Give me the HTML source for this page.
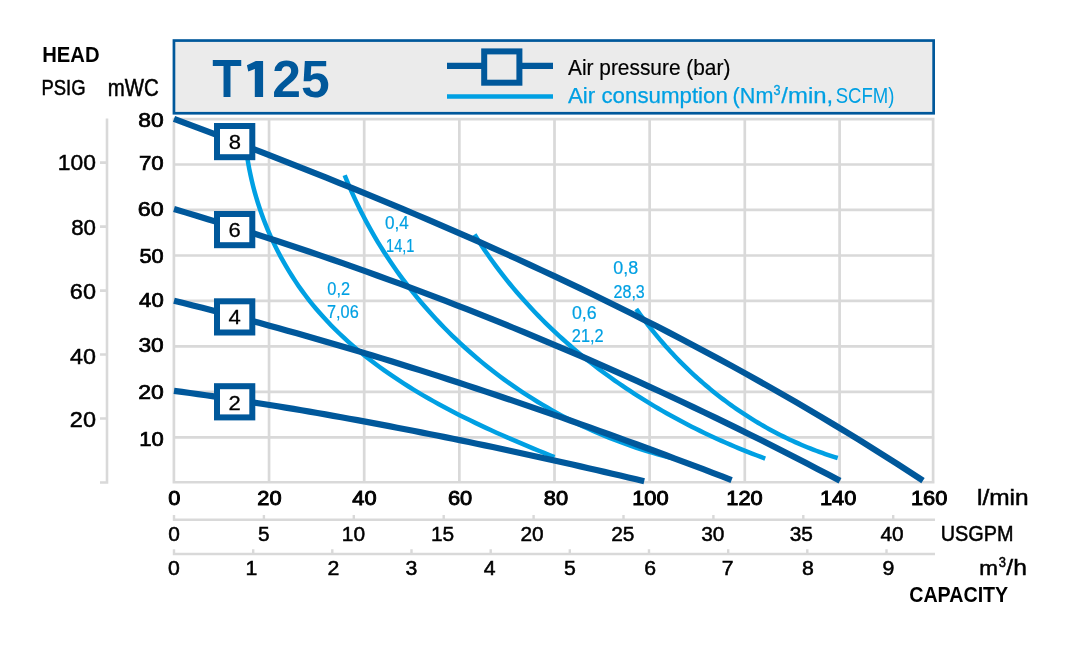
<!DOCTYPE html><html><head><meta charset="utf-8"><style>html,body{margin:0;padding:0;background:#fff;overflow:hidden}svg{display:block;will-change:transform}text{font-family:"Liberation Sans",sans-serif}</style></head><body>
<svg width="1081" height="654" viewBox="0 0 1081 654">
<rect width="1081" height="654" fill="#fff"/>
<rect x="173.95" y="40.55" width="759.7" height="72.7" fill="#ebebeb" stroke="#00589b" stroke-width="2.7"/>
<path d="M173.90,118.2 L173.90,483.6 M269.05,118.2 L269.05,483.6 M364.20,118.2 L364.20,483.6 M459.35,118.2 L459.35,483.6 M554.50,118.2 L554.50,483.6 M649.65,118.2 L649.65,483.6 M744.80,118.2 L744.80,483.6 M839.60,118.2 L839.60,483.6 M933.10,118.2 L933.10,483.6 M172.6,482.25 L934.5,482.25 M172.6,437.40 L934.5,437.40 M172.6,391.90 L934.5,391.90 M172.6,346.40 L934.5,346.40 M172.6,300.90 L934.5,300.90 M172.6,255.50 L934.5,255.50 M172.6,209.90 L934.5,209.90 M172.6,164.50 L934.5,164.50 M172.6,119.10 L934.5,119.10" stroke="#d9d9d9" stroke-width="2.7" fill="none"/>
<path d="M107,118.5 L107,483.7 M100,482.5 L107,482.5 M100,418.5 L107,418.5 M100,354.5 L107,354.5 M100,290.6 L107,290.6 M100,226.6 L107,226.6 M100,162.6 L107,162.6" stroke="#d9d9d9" stroke-width="2.6" fill="none"/>
<path d="M172.8,519.7 L935,519.7 M174.0,515 L174.0,519.7 M263.9,515 L263.9,519.7 M353.8,515 L353.8,519.7 M443.7,515 L443.7,519.7 M533.6,515 L533.6,519.7 M623.5,515 L623.5,519.7 M713.4,515 L713.4,519.7 M803.3,515 L803.3,519.7 M893.2,515 L893.2,519.7" stroke="#d9d9d9" stroke-width="2.4" fill="none"/>
<path d="M172.8,554.0 L935,554.0 M174.0,549.2 L174.0,554 M253.2,549.2 L253.2,554 M332.3,549.2 L332.3,554 M411.5,549.2 L411.5,554 M490.7,549.2 L490.7,554 M569.8,549.2 L569.8,554 M649.0,549.2 L649.0,554 M728.2,549.2 L728.2,554 M807.3,549.2 L807.3,554 M886.5,549.2 L886.5,554" stroke="#d9d9d9" stroke-width="2.4" fill="none"/>
<path d="M246.45,151.72 L247.29,157.53 L248.24,163.32 L249.30,169.08 L250.47,174.81 L251.75,180.51 L253.13,186.19 L254.62,191.83 L256.22,197.44 L257.93,203.01 L259.73,208.55 L261.64,214.04 L263.65,219.50 L265.76,224.91 L267.97,230.28 L270.28,235.60 L272.69,240.88 L275.19,246.10 L277.79,251.28 L280.48,256.40 L283.27,261.46 L286.15,266.47 L289.12,271.42 L292.18,276.31 L295.32,281.14 L298.56,285.91 L301.89,290.61 L305.30,295.24 L308.79,299.80 L312.37,304.29 L316.04,308.71 L319.78,313.06 L323.61,317.34 L327.51,321.55 L331.48,325.69 L335.53,329.76 L339.65,333.76 L343.84,337.70 L348.10,341.58 L352.41,345.39 L356.80,349.14 L361.24,352.82 L365.74,356.45 L370.30,360.01 L374.91,363.52 L379.58,366.97 L384.29,370.36 L389.05,373.70 L393.86,376.98 L398.71,380.21 L403.61,383.39 L408.54,386.51 L413.52,389.58 L418.52,392.61 L423.56,395.58 L428.64,398.51 L433.74,401.39 L438.87,404.22 L444.03,407.02 L449.20,409.76 L454.40,412.47 L459.62,415.13 L464.86,417.75 L470.11,420.33 L475.37,422.87 L480.65,425.38 L485.93,427.85 L491.22,430.28 L496.52,432.68 L501.82,435.04 L507.12,437.37 L512.41,439.67 L517.71,441.94 L522.99,444.18 L528.27,446.39 L533.54,448.58 L538.80,450.73 L544.05,452.87 L549.28,454.97 L554.49,457.05" stroke="#00a0e3" stroke-width="4.5" fill="none" stroke-linecap="butt"/>
<path d="M344.68,175.22 L346.84,180.57 L349.08,185.89 L351.37,191.17 L353.74,196.42 L356.16,201.63 L358.66,206.81 L361.21,211.95 L363.83,217.06 L366.51,222.13 L369.25,227.16 L372.05,232.16 L374.92,237.11 L377.84,242.03 L380.82,246.91 L383.86,251.75 L386.96,256.55 L390.12,261.31 L393.34,266.02 L396.61,270.70 L399.93,275.33 L403.32,279.92 L406.76,284.47 L410.25,288.98 L413.79,293.44 L417.39,297.86 L421.05,302.23 L424.75,306.56 L428.51,310.84 L432.31,315.07 L436.17,319.26 L440.08,323.40 L444.04,327.50 L448.04,331.54 L452.10,335.54 L456.20,339.49 L460.34,343.39 L464.54,347.24 L468.78,351.04 L473.07,354.78 L477.40,358.48 L481.77,362.13 L486.19,365.72 L490.65,369.26 L495.15,372.75 L499.70,376.19 L504.28,379.57 L508.91,382.90 L513.57,386.17 L518.28,389.39 L523.02,392.56 L527.80,395.67 L532.61,398.72 L537.47,401.72 L542.36,404.66 L547.28,407.55 L552.24,410.38 L557.23,413.15 L562.26,415.86 L567.32,418.51 L572.41,421.10 L577.54,423.64 L582.69,426.11 L587.88,428.53 L593.09,430.88 L598.33,433.18 L603.60,435.41 L608.90,437.58 L614.23,439.69 L619.58,441.74 L624.96,443.72 L630.37,445.64 L635.80,447.50 L641.25,449.29 L646.73,451.02 L652.23,452.68 L657.75,454.28 L663.29,455.81 L668.86,457.28 L674.44,458.68" stroke="#00a0e3" stroke-width="4.5" fill="none" stroke-linecap="butt"/>
<path d="M474.53,234.46 L477.04,238.48 L479.60,242.48 L482.20,246.45 L484.84,250.39 L487.52,254.29 L490.24,258.17 L492.99,262.02 L495.79,265.83 L498.62,269.62 L501.49,273.38 L504.40,277.10 L507.35,280.80 L510.33,284.47 L513.34,288.10 L516.40,291.71 L519.48,295.28 L522.61,298.83 L525.76,302.34 L528.95,305.83 L532.17,309.28 L535.43,312.70 L538.72,316.10 L542.04,319.46 L545.39,322.79 L548.77,326.10 L552.18,329.37 L555.62,332.61 L559.10,335.82 L562.60,339.00 L566.13,342.15 L569.69,345.27 L573.27,348.35 L576.89,351.41 L580.53,354.44 L584.20,357.44 L587.89,360.40 L591.61,363.34 L595.35,366.24 L599.12,369.11 L602.92,371.95 L606.74,374.77 L610.58,377.55 L614.44,380.30 L618.33,383.02 L622.24,385.70 L626.17,388.36 L630.12,390.99 L634.09,393.58 L638.09,396.14 L642.10,398.68 L646.14,401.18 L650.19,403.65 L654.26,406.09 L658.35,408.50 L662.45,410.88 L666.58,413.22 L670.72,415.54 L674.88,417.82 L679.05,420.07 L683.24,422.30 L687.44,424.49 L691.66,426.64 L695.90,428.77 L700.14,430.87 L704.40,432.93 L708.68,434.97 L712.96,436.97 L717.26,438.94 L721.57,440.88 L725.89,442.78 L730.22,444.66 L734.56,446.50 L738.92,448.32 L743.28,450.10 L747.65,451.85 L752.03,453.57 L756.41,455.25 L760.81,456.91 L765.21,458.53" stroke="#00a0e3" stroke-width="4.5" fill="none" stroke-linecap="butt"/>
<path d="M636.24,308.94 L638.10,311.58 L639.99,314.21 L641.89,316.82 L643.82,319.42 L645.77,322.00 L647.73,324.56 L649.72,327.11 L651.73,329.65 L653.76,332.17 L655.80,334.67 L657.87,337.15 L659.96,339.62 L662.06,342.07 L664.19,344.51 L666.34,346.93 L668.50,349.33 L670.68,351.71 L672.88,354.08 L675.10,356.43 L677.34,358.76 L679.60,361.07 L681.88,363.36 L684.17,365.64 L686.48,367.89 L688.81,370.13 L691.16,372.35 L693.53,374.55 L695.91,376.73 L698.31,378.89 L700.73,381.03 L703.16,383.15 L705.62,385.25 L708.09,387.33 L710.57,389.39 L713.07,391.43 L715.59,393.45 L718.13,395.45 L720.68,397.42 L723.25,399.38 L725.83,401.31 L728.43,403.22 L731.05,405.11 L733.68,406.98 L736.33,408.82 L738.99,410.65 L741.66,412.45 L744.36,414.23 L747.06,415.98 L749.79,417.71 L752.52,419.42 L755.27,421.10 L758.04,422.76 L760.82,424.40 L763.62,426.01 L766.42,427.60 L769.25,429.17 L772.08,430.71 L774.93,432.22 L777.80,433.71 L780.67,435.18 L783.56,436.62 L786.47,438.03 L789.38,439.42 L792.31,440.78 L795.26,442.12 L798.21,443.43 L801.18,444.72 L804.16,445.97 L807.15,447.21 L810.15,448.41 L813.17,449.59 L816.20,450.74 L819.24,451.86 L822.29,452.96 L825.35,454.02 L828.43,455.06 L831.51,456.07 L834.61,457.06 L837.72,458.01" stroke="#00a0e3" stroke-width="4.5" fill="none" stroke-linecap="butt"/>
<path d="M174.00,118.82 L186.69,123.59 L199.39,128.38 L212.08,133.19 L224.78,138.03 L237.47,142.89 L250.17,147.77 L262.86,152.68 L275.56,157.62 L288.25,162.59 L300.95,167.59 L313.64,172.63 L326.34,177.69 L339.03,182.80 L351.73,187.94 L364.42,193.12 L377.12,198.34 L389.81,203.60 L402.51,208.90 L415.20,214.25 L427.90,219.64 L440.59,225.08 L453.29,230.57 L465.98,236.10 L478.68,241.69 L491.37,247.33 L504.07,253.03 L516.76,258.78 L529.46,264.59 L542.15,270.45 L554.85,276.38 L567.54,282.36 L580.24,288.41 L592.93,294.53 L605.63,300.71 L618.32,306.95 L631.02,313.26 L643.71,319.65 L656.41,326.10 L669.10,332.63 L681.80,339.23 L694.49,345.91 L707.19,352.66 L719.88,359.49 L732.58,366.40 L745.27,373.39 L757.97,380.46 L770.66,387.62 L783.36,394.86 L796.05,402.19 L808.75,409.61 L821.44,417.12 L834.14,424.72 L846.83,432.41 L859.53,440.19 L872.22,448.07 L884.92,456.05 L897.61,464.12 L910.31,472.29 L923.00,480.57" stroke="#00589b" stroke-width="6.2" fill="none" stroke-linecap="butt"/>
<path d="M174.00,209.05 L185.29,212.39 L196.58,215.76 L207.86,219.18 L219.15,222.64 L230.44,226.14 L241.73,229.68 L253.02,233.26 L264.31,236.88 L275.59,240.55 L286.88,244.26 L298.17,248.01 L309.46,251.80 L320.75,255.64 L332.03,259.51 L343.32,263.43 L354.61,267.40 L365.90,271.41 L377.19,275.46 L388.47,279.55 L399.76,283.69 L411.05,287.87 L422.34,292.09 L433.63,296.36 L444.92,300.68 L456.20,305.04 L467.49,309.44 L478.78,313.89 L490.07,318.38 L501.36,322.92 L512.64,327.50 L523.93,332.13 L535.22,336.80 L546.51,341.52 L557.80,346.29 L569.08,351.10 L580.37,355.96 L591.66,360.86 L602.95,365.81 L614.24,370.81 L625.53,375.85 L636.81,380.94 L648.10,386.08 L659.39,391.27 L670.68,396.50 L681.97,401.78 L693.25,407.11 L704.54,412.48 L715.83,417.91 L727.12,423.38 L738.41,428.90 L749.69,434.47 L760.98,440.09 L772.27,445.76 L783.56,451.47 L794.85,457.24 L806.14,463.05 L817.42,468.92 L828.71,474.83 L840.00,480.79" stroke="#00589b" stroke-width="6.2" fill="none" stroke-linecap="butt"/>
<path d="M174.00,300.76 L183.45,303.10 L192.90,305.47 L202.35,307.87 L211.80,310.29 L221.25,312.74 L230.71,315.22 L240.16,317.73 L249.61,320.26 L259.06,322.81 L268.51,325.40 L277.96,328.01 L287.41,330.64 L296.86,333.31 L306.31,335.99 L315.76,338.70 L325.21,341.44 L334.66,344.20 L344.12,346.99 L353.57,349.80 L363.02,352.63 L372.47,355.49 L381.92,358.38 L391.37,361.28 L400.82,364.21 L410.27,367.17 L419.72,370.14 L429.17,373.14 L438.62,376.16 L448.07,379.21 L457.53,382.28 L466.98,385.36 L476.43,388.47 L485.88,391.61 L495.33,394.76 L504.78,397.94 L514.23,401.13 L523.68,404.35 L533.13,407.59 L542.58,410.85 L552.03,414.13 L561.48,417.43 L570.94,420.75 L580.39,424.09 L589.84,427.44 L599.29,430.82 L608.74,434.22 L618.19,437.64 L627.64,441.07 L637.09,444.53 L646.54,448.00 L655.99,451.49 L665.44,455.00 L674.89,458.53 L684.35,462.07 L693.80,465.63 L703.25,469.21 L712.70,472.81 L722.15,476.42 L731.60,480.05" stroke="#00589b" stroke-width="6.2" fill="none" stroke-linecap="butt"/>
<path d="M174.00,390.81 L181.97,391.89 L189.94,392.99 L197.91,394.11 L205.88,395.24 L213.85,396.40 L221.82,397.57 L229.79,398.76 L237.76,399.97 L245.73,401.20 L253.69,402.45 L261.66,403.71 L269.63,404.99 L277.60,406.29 L285.57,407.60 L293.54,408.93 L301.51,410.28 L309.48,411.64 L317.45,413.02 L325.42,414.42 L333.39,415.83 L341.36,417.26 L349.33,418.70 L357.30,420.16 L365.27,421.63 L373.24,423.12 L381.21,424.62 L389.18,426.14 L397.15,427.67 L405.12,429.22 L413.08,430.77 L421.05,432.35 L429.02,433.93 L436.99,435.53 L444.96,437.15 L452.93,438.77 L460.90,440.41 L468.87,442.06 L476.84,443.73 L484.81,445.40 L492.78,447.09 L500.75,448.79 L508.72,450.50 L516.69,452.22 L524.66,453.96 L532.63,455.70 L540.60,457.46 L548.57,459.23 L556.54,461.00 L564.51,462.79 L572.47,464.59 L580.44,466.39 L588.41,468.21 L596.38,470.04 L604.35,471.87 L612.32,473.72 L620.29,475.57 L628.26,477.43 L636.23,479.30 L644.20,481.18" stroke="#00589b" stroke-width="6.2" fill="none" stroke-linecap="butt"/>
<rect x="217" y="126.0" width="35.3" height="31.2" fill="#fff" stroke="#00589b" stroke-width="6"/>
<rect x="217" y="214.0" width="35.3" height="31.2" fill="#fff" stroke="#00589b" stroke-width="6"/>
<rect x="217" y="301.3" width="35.3" height="31.2" fill="#fff" stroke="#00589b" stroke-width="6"/>
<rect x="217" y="386.2" width="35.3" height="31.2" fill="#fff" stroke="#00589b" stroke-width="6"/>
<path d="M447,65.8 L553,65.8" stroke="#00589b" stroke-width="6.2"/>
<rect x="484.2" y="51.4" width="35.2" height="31.3" fill="#ebebeb" stroke="#00589b" stroke-width="6"/>
<path d="M447,96.5 L553,96.5" stroke="#00a0e3" stroke-width="4.5"/>
<path d="M246.9,65.3 L255.8,61.1 L263.1,61.1 L263.1,97 L254.8,97 L254.8,69.1 L248.3,71.5 Z" fill="#00589b"/>
<text x="42.18" y="62.00" font-size="22.90" font-weight="bold" fill="#000" textLength="57.40" lengthAdjust="spacingAndGlyphs">HEAD</text>
<text x="41.41" y="94.80" font-size="22.29" font-weight="normal" fill="#000" stroke="#000" stroke-width="0.5" textLength="44.09" lengthAdjust="spacingAndGlyphs">PSIG</text>
<text x="107.78" y="96.00" font-size="23.00" font-weight="normal" fill="#000" stroke="#000" stroke-width="0.5" textLength="51.01" lengthAdjust="spacingAndGlyphs">mWC</text>
<text x="57.80" y="170.40" font-size="22.77" font-weight="normal" fill="#000" stroke="#000" stroke-width="0.5" textLength="38.05" lengthAdjust="spacingAndGlyphs">100</text>
<text x="71.13" y="235.00" font-size="22.77" font-weight="normal" fill="#000" stroke="#000" stroke-width="0.5" textLength="24.79" lengthAdjust="spacingAndGlyphs">80</text>
<text x="69.86" y="299.10" font-size="22.77" font-weight="normal" fill="#000" stroke="#000" stroke-width="0.5" textLength="26.10" lengthAdjust="spacingAndGlyphs">60</text>
<text x="70.07" y="363.50" font-size="22.77" font-weight="normal" fill="#000" stroke="#000" stroke-width="0.5" textLength="25.89" lengthAdjust="spacingAndGlyphs">40</text>
<text x="69.86" y="427.10" font-size="22.77" font-weight="normal" fill="#000" stroke="#000" stroke-width="0.5" textLength="26.10" lengthAdjust="spacingAndGlyphs">20</text>
<text x="138.32" y="126.70" font-size="20.27" font-weight="normal" fill="#000" stroke="#000" stroke-width="0.7" textLength="25.40" lengthAdjust="spacingAndGlyphs">80</text>
<text x="138.93" y="169.70" font-size="20.27" font-weight="normal" fill="#000" stroke="#000" stroke-width="0.7" textLength="24.77" lengthAdjust="spacingAndGlyphs">70</text>
<text x="137.80" y="215.80" font-size="20.27" font-weight="normal" fill="#000" stroke="#000" stroke-width="0.7" textLength="25.92" lengthAdjust="spacingAndGlyphs">60</text>
<text x="139.46" y="262.60" font-size="20.27" font-weight="normal" fill="#000" stroke="#000" stroke-width="0.7" textLength="24.22" lengthAdjust="spacingAndGlyphs">50</text>
<text x="139.08" y="306.90" font-size="20.27" font-weight="normal" fill="#000" stroke="#000" stroke-width="0.7" textLength="24.62" lengthAdjust="spacingAndGlyphs">40</text>
<text x="138.45" y="351.50" font-size="20.27" font-weight="normal" fill="#000" stroke="#000" stroke-width="0.7" textLength="25.26" lengthAdjust="spacingAndGlyphs">30</text>
<text x="138.21" y="399.00" font-size="20.27" font-weight="normal" fill="#000" stroke="#000" stroke-width="0.7" textLength="25.50" lengthAdjust="spacingAndGlyphs">20</text>
<text x="139.18" y="445.70" font-size="20.27" font-weight="normal" fill="#000" stroke="#000" stroke-width="0.7" textLength="24.51" lengthAdjust="spacingAndGlyphs">10</text>
<text x="212.22" y="97.00" font-size="53.77" font-weight="bold" fill="#00589b" textLength="29.51" lengthAdjust="spacingAndGlyphs">T</text>
<text x="272.25" y="97.00" font-size="51.71" font-weight="bold" fill="#00589b" textLength="57.42" lengthAdjust="spacingAndGlyphs">25</text>
<text x="568.00" y="74.50" font-size="22.19" font-weight="normal" fill="#000" stroke="#000" stroke-width="0.2" textLength="162.35" lengthAdjust="spacingAndGlyphs">Air pressure (bar)</text>
<text x="568.00" y="103.00" font-size="21.23" font-weight="normal" fill="#00a0e3" stroke="#00a0e3" stroke-width="0.25" textLength="159.84" lengthAdjust="spacingAndGlyphs">Air consumption</text>
<text x="732.61" y="103.00" font-size="22.60" font-weight="normal" fill="#00a0e3" stroke="#00a0e3" stroke-width="0.25" textLength="40.75" lengthAdjust="spacingAndGlyphs">(Nm</text>
<text x="773.62" y="95.20" font-size="14.29" font-weight="normal" fill="#00a0e3" stroke="#00a0e3" stroke-width="0.3" textLength="7.04" lengthAdjust="spacingAndGlyphs">3</text>
<text x="781.34" y="103.00" font-size="21.92" font-weight="normal" fill="#00a0e3" stroke="#00a0e3" stroke-width="0.25" textLength="51.84" lengthAdjust="spacingAndGlyphs">/min,</text>
<text x="835.67" y="103.10" font-size="22.05" font-weight="normal" fill="#00a0e3" textLength="58.75" lengthAdjust="spacingAndGlyphs">SCFM)</text>
<text x="168.39" y="504.60" font-size="20.00" font-weight="normal" fill="#000" stroke="#000" stroke-width="0.9" textLength="12.13" lengthAdjust="spacingAndGlyphs">0</text>
<text x="257.28" y="504.60" font-size="20.00" font-weight="normal" fill="#000" stroke="#000" stroke-width="0.9" textLength="24.26" lengthAdjust="spacingAndGlyphs">20</text>
<text x="352.31" y="504.60" font-size="20.00" font-weight="normal" fill="#000" stroke="#000" stroke-width="0.9" textLength="24.26" lengthAdjust="spacingAndGlyphs">40</text>
<text x="447.98" y="504.60" font-size="20.00" font-weight="normal" fill="#000" stroke="#000" stroke-width="0.9" textLength="24.26" lengthAdjust="spacingAndGlyphs">60</text>
<text x="543.79" y="504.60" font-size="20.00" font-weight="normal" fill="#000" stroke="#000" stroke-width="0.9" textLength="24.26" lengthAdjust="spacingAndGlyphs">80</text>
<text x="632.16" y="504.60" font-size="20.00" font-weight="normal" fill="#000" stroke="#000" stroke-width="0.9" textLength="36.40" lengthAdjust="spacingAndGlyphs">100</text>
<text x="726.26" y="504.60" font-size="20.00" font-weight="normal" fill="#000" stroke="#000" stroke-width="0.9" textLength="36.40" lengthAdjust="spacingAndGlyphs">120</text>
<text x="819.96" y="504.60" font-size="20.00" font-weight="normal" fill="#000" stroke="#000" stroke-width="0.9" textLength="36.40" lengthAdjust="spacingAndGlyphs">140</text>
<text x="910.96" y="504.60" font-size="20.00" font-weight="normal" fill="#000" stroke="#000" stroke-width="0.9" textLength="36.40" lengthAdjust="spacingAndGlyphs">160</text>
<text x="977.03" y="504.70" font-size="22.60" font-weight="normal" fill="#000" stroke="#000" stroke-width="0.5" textLength="51.62" lengthAdjust="spacingAndGlyphs">l/min</text>
<text x="168.15" y="540.90" font-size="21.07" font-weight="normal" fill="#000" stroke="#000" stroke-width="0.5" textLength="11.62" lengthAdjust="spacingAndGlyphs">0</text>
<text x="257.95" y="540.90" font-size="21.07" font-weight="normal" fill="#000" stroke="#000" stroke-width="0.5" textLength="11.62" lengthAdjust="spacingAndGlyphs">5</text>
<text x="341.80" y="540.90" font-size="21.07" font-weight="normal" fill="#000" stroke="#000" stroke-width="0.5" textLength="23.23" lengthAdjust="spacingAndGlyphs">10</text>
<text x="431.00" y="540.90" font-size="21.07" font-weight="normal" fill="#000" stroke="#000" stroke-width="0.5" textLength="23.23" lengthAdjust="spacingAndGlyphs">15</text>
<text x="520.51" y="540.90" font-size="21.07" font-weight="normal" fill="#000" stroke="#000" stroke-width="0.5" textLength="23.23" lengthAdjust="spacingAndGlyphs">20</text>
<text x="611.21" y="540.90" font-size="21.07" font-weight="normal" fill="#000" stroke="#000" stroke-width="0.5" textLength="23.23" lengthAdjust="spacingAndGlyphs">25</text>
<text x="701.21" y="540.90" font-size="21.07" font-weight="normal" fill="#000" stroke="#000" stroke-width="0.5" textLength="23.23" lengthAdjust="spacingAndGlyphs">30</text>
<text x="789.71" y="540.90" font-size="21.07" font-weight="normal" fill="#000" stroke="#000" stroke-width="0.5" textLength="23.23" lengthAdjust="spacingAndGlyphs">35</text>
<text x="880.42" y="540.90" font-size="21.07" font-weight="normal" fill="#000" stroke="#000" stroke-width="0.5" textLength="23.23" lengthAdjust="spacingAndGlyphs">40</text>
<text x="940.71" y="540.70" font-size="22.00" font-weight="normal" fill="#000" stroke="#000" stroke-width="0.5" textLength="72.72" lengthAdjust="spacingAndGlyphs">USGPM</text>
<text x="168.09" y="574.80" font-size="19.77" font-weight="normal" fill="#000" stroke="#000" stroke-width="0.5" textLength="11.83" lengthAdjust="spacingAndGlyphs">0</text>
<text x="245.58" y="574.80" font-size="19.77" font-weight="normal" fill="#000" stroke="#000" stroke-width="0.5" textLength="11.83" lengthAdjust="spacingAndGlyphs">1</text>
<text x="327.64" y="574.80" font-size="19.77" font-weight="normal" fill="#000" stroke="#000" stroke-width="0.5" textLength="11.83" lengthAdjust="spacingAndGlyphs">2</text>
<text x="405.46" y="574.80" font-size="19.77" font-weight="normal" fill="#000" stroke="#000" stroke-width="0.5" textLength="11.83" lengthAdjust="spacingAndGlyphs">3</text>
<text x="483.70" y="574.80" font-size="19.77" font-weight="normal" fill="#000" stroke="#000" stroke-width="0.5" textLength="11.83" lengthAdjust="spacingAndGlyphs">4</text>
<text x="563.94" y="574.80" font-size="19.77" font-weight="normal" fill="#000" stroke="#000" stroke-width="0.5" textLength="11.83" lengthAdjust="spacingAndGlyphs">5</text>
<text x="644.34" y="574.80" font-size="19.77" font-weight="normal" fill="#000" stroke="#000" stroke-width="0.5" textLength="11.83" lengthAdjust="spacingAndGlyphs">6</text>
<text x="721.74" y="574.80" font-size="19.77" font-weight="normal" fill="#000" stroke="#000" stroke-width="0.5" textLength="11.83" lengthAdjust="spacingAndGlyphs">7</text>
<text x="802.10" y="574.80" font-size="19.77" font-weight="normal" fill="#000" stroke="#000" stroke-width="0.5" textLength="11.83" lengthAdjust="spacingAndGlyphs">8</text>
<text x="882.55" y="574.80" font-size="19.77" font-weight="normal" fill="#000" stroke="#000" stroke-width="0.5" textLength="11.83" lengthAdjust="spacingAndGlyphs">9</text>
<text x="979.38" y="574.70" font-size="20.00" font-weight="normal" fill="#000" stroke="#000" stroke-width="0.5" textLength="18.72" lengthAdjust="spacingAndGlyphs">m</text>
<text x="998.64" y="566.90" font-size="13.86" font-weight="normal" fill="#000" stroke="#000" stroke-width="0.5" textLength="7.20" lengthAdjust="spacingAndGlyphs">3</text>
<text x="1006.35" y="574.70" font-size="22.88" font-weight="normal" fill="#000" stroke="#000" stroke-width="0.5" textLength="20.48" lengthAdjust="spacingAndGlyphs">/h</text>
<text x="909.21" y="602.40" font-size="21.43" font-weight="bold" fill="#000" textLength="99.02" lengthAdjust="spacingAndGlyphs">CAPACITY</text>
<text x="228.79" y="148.80" font-size="20.96" font-weight="normal" fill="#000" stroke="#000" stroke-width="0.3" textLength="12.24" lengthAdjust="spacingAndGlyphs">8</text>
<text x="228.59" y="237.00" font-size="20.96" font-weight="normal" fill="#000" stroke="#000" stroke-width="0.3" textLength="12.24" lengthAdjust="spacingAndGlyphs">6</text>
<text x="228.55" y="324.30" font-size="20.96" font-weight="normal" fill="#000" stroke="#000" stroke-width="0.3" textLength="12.24" lengthAdjust="spacingAndGlyphs">4</text>
<text x="228.55" y="409.90" font-size="20.96" font-weight="normal" fill="#000" stroke="#000" stroke-width="0.3" textLength="12.24" lengthAdjust="spacingAndGlyphs">2</text>
<text x="327.31" y="295.00" font-size="17.91" font-weight="normal" fill="#00a0e3" stroke="#00a0e3" stroke-width="0.2" textLength="22.75" lengthAdjust="spacingAndGlyphs">0,2</text>
<text x="326.99" y="317.70" font-size="17.91" font-weight="normal" fill="#00a0e3" stroke="#00a0e3" stroke-width="0.2" textLength="31.71" lengthAdjust="spacingAndGlyphs">7,06</text>
<text x="385.09" y="228.90" font-size="17.91" font-weight="normal" fill="#00a0e3" stroke="#00a0e3" stroke-width="0.2" textLength="23.76" lengthAdjust="spacingAndGlyphs">0,4</text>
<text x="386.08" y="251.50" font-size="17.91" font-weight="normal" fill="#00a0e3" stroke="#00a0e3" stroke-width="0.2" textLength="28.40" lengthAdjust="spacingAndGlyphs">14,1</text>
<text x="571.97" y="318.90" font-size="17.91" font-weight="normal" fill="#00a0e3" stroke="#00a0e3" stroke-width="0.2" textLength="24.75" lengthAdjust="spacingAndGlyphs">0,6</text>
<text x="571.85" y="342.40" font-size="17.91" font-weight="normal" fill="#00a0e3" stroke="#00a0e3" stroke-width="0.2" textLength="31.81" lengthAdjust="spacingAndGlyphs">21,2</text>
<text x="613.26" y="273.90" font-size="17.91" font-weight="normal" fill="#00a0e3" stroke="#00a0e3" stroke-width="0.2" textLength="24.85" lengthAdjust="spacingAndGlyphs">0,8</text>
<text x="613.56" y="297.50" font-size="17.91" font-weight="normal" fill="#00a0e3" stroke="#00a0e3" stroke-width="0.2" textLength="31.23" lengthAdjust="spacingAndGlyphs">28,3</text>
</svg></body></html>
